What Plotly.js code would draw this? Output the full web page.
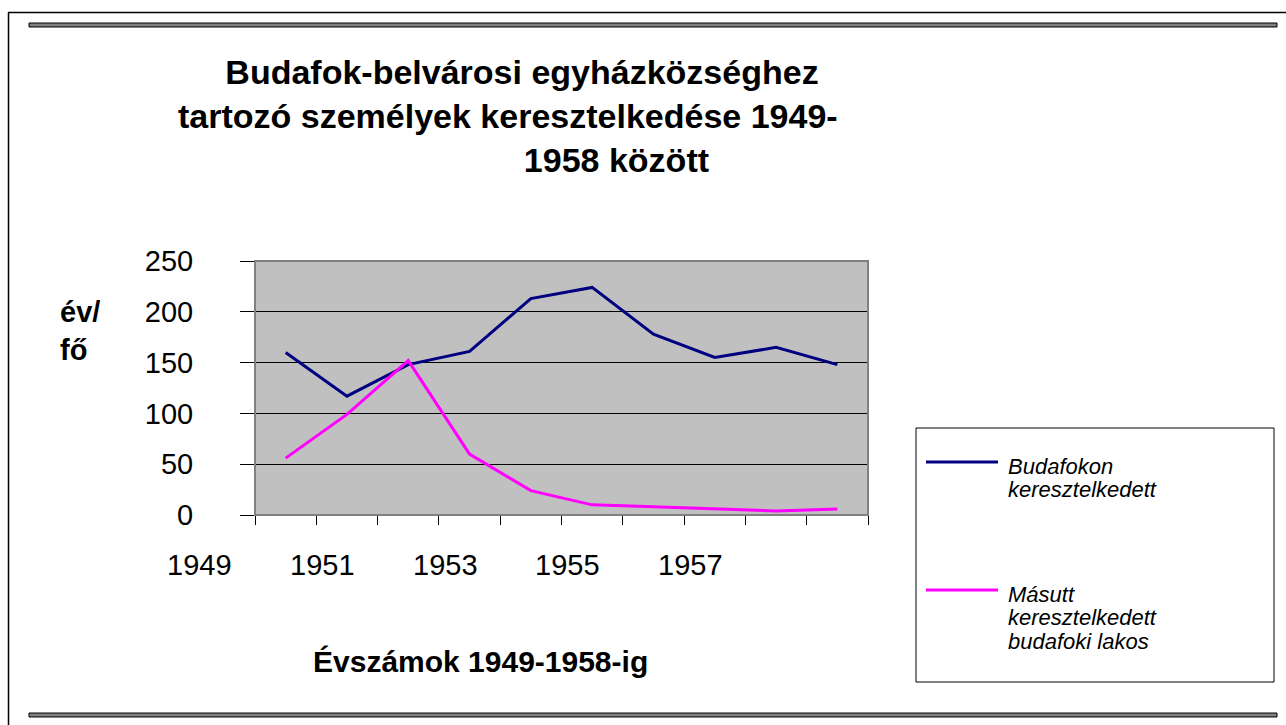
<!DOCTYPE html>
<html>
<head>
<meta charset="utf-8">
<script src="https://cdn.plot.ly/plotly-3.0.1.min.js"></script>
<style>html,body{margin:0;padding:0;background:#fff;}#chart{width:1286px;height:725px;}</style>
</head>
<body>
<div id="chart"></div>
<script>
// ---- data ----
const years = [1949, 1950, 1951, 1952, 1953, 1954, 1955, 1956, 1957, 1958];
const budafokon = [160, 117, 148, 161, 213, 224, 178, 155, 165, 148];
const masutt = [56, 99, 152, 60, 24, 10, 8, 6, 4, 6];
const seriesNames = ["Budafokon keresztelkedett", "Másutt keresztelkedett budafoki lakos"];
const legendLines = [["Budafokon", "keresztelkedett"], ["Másutt", "keresztelkedett", "budafoki lakos"]];
const seriesColors = ["#000080", "#FF00FF"];
const xTickLabels = ["1949", "1951", "1953", "1955", "1957"];
const yTicks = [0, 50, 100, 150, 200, 250];
const titleLines = ["Budafok-belvárosi egyházközséghez", "tartozó személyek keresztelkedése 1949-", "1958 között"];
const xTitle = "Évszámok 1949-1958-ig";
const yTitleLines = ["év/", "fő"];

// ---- layout helpers (pixel -> paper) ----
const L = 255, R = 868, T = 261, B = 515;
const px = v => (v - L) / (R - L);
const py = v => (B - v) / (B - T);
const FONT = "Liberation Sans, Arial, sans-serif";
const xRange = [years[0] - 0.5, years[years.length - 1] + 0.5];
const xToPaper = v => (v - xRange[0]) / (xRange[1] - xRange[0]);

const traces = [budafokon, masutt].map((vals, i) => ({
  type: "scatter", mode: "lines", x: years, y: vals, name: seriesNames[i],
  line: {color: seriesColors[i], width: 3}, showlegend: false, hoverinfo: "x+y"
}));

const shapes = [
  // plot area frame
  {type: "rect", xref: "paper", yref: "paper", x0: 0, x1: 1, y0: 0, y1: 1, line: {color: "#808080", width: 2}},
  // outer page frame
  {type: "line", xref: "paper", yref: "paper", x0: px(8), x1: px(1286), y0: py(12.5), y1: py(12.5), line: {color: "#000", width: 1.5}},
  {type: "line", xref: "paper", yref: "paper", x0: px(8.5), x1: px(8.5), y0: py(12.5), y1: py(725), line: {color: "#000", width: 1.5}},
  // thick rules
  {type: "rect", xref: "paper", yref: "paper", x0: px(29), x1: px(1277), y0: py(23), y1: py(27), fillcolor: "#808080", line: {color: "#000", width: 1}},
  {type: "rect", xref: "paper", yref: "paper", x0: px(29), x1: px(1277), y0: py(713), y1: py(717), fillcolor: "#808080", line: {color: "#000", width: 1}},
  // legend box
  {type: "rect", xref: "paper", yref: "paper", x0: px(916), x1: px(1274), y0: py(428), y1: py(682), line: {color: "#000", width: 1}, fillcolor: "rgba(0,0,0,0)"},
  {type: "line", xref: "paper", yref: "paper", x0: px(926), x1: px(998), y0: py(462), y1: py(462), line: {color: seriesColors[0], width: 3}},
  {type: "line", xref: "paper", yref: "paper", x0: px(926), x1: px(998), y0: py(590), y1: py(590), line: {color: seriesColors[1], width: 3}}
];

const annotations = [];
xTickLabels.forEach(t => annotations.push({
  text: t, xref: "paper", yref: "paper", x: xToPaper(Number(t) - 1.4), y: py(565), xanchor: "center", yanchor: "middle",
  showarrow: false, font: {family: FONT, size: 29, color: "#000"}
}));
annotations.push({text: xTitle, xref: "paper", yref: "paper", x: px(480), y: py(661), xanchor: "center", yanchor: "middle",
  showarrow: false, font: {family: FONT, size: 30, color: "#000", weight: "bold"}});
annotations.push({text: yTitleLines.join("<br>"), xref: "paper", yref: "paper", x: px(58), y: py(331), xanchor: "left", yanchor: "middle",
  align: "left", showarrow: false, font: {family: FONT, size: 29, color: "#000", weight: "bold"}});
const legendStart = [466, 594];
legendLines.forEach((lines, i) => lines.forEach((ln, j) => annotations.push({
  text: ln, xref: "paper", yref: "paper", x: px(1006), y: py(legendStart[i] + j * 23.5), xanchor: "left", yanchor: "middle",
  showarrow: false, font: {family: FONT, size: 22, color: "#000", style: "italic"}
})));

const nb = n => "\u00a0".repeat(n);
const layout = {
  width: 1286, height: 725,
  margin: {l: L, r: 1286 - R, t: T, b: 725 - B, pad: 0},
  paper_bgcolor: "#ffffff", plot_bgcolor: "#C0C0C0",
  title: {
    text: titleLines[0] + "<br>" + titleLines[1] + nb(3) + "<br>" + nb(20) + titleLines[2],
    xref: "container", yref: "container", x: 522 / 1286, y: 1 - 84 / 725, xanchor: "center", yanchor: "middle",
    font: {family: FONT, size: 34, color: "#000", weight: "bold"}
  },
  xaxis: {
    range: xRange,
    tickvals: years.map(y => y - 0.5).concat([years[years.length - 1] + 0.5]),
    ticktext: years.map(() => "").concat([""]),
    ticks: "outside", ticklen: 9, tickcolor: "#000", tickwidth: 1,
    showline: true, linecolor: "#000", linewidth: 1, showgrid: false, zeroline: false, fixedrange: true
  },
  yaxis: {
    range: [0, 250], tickvals: yTicks, ticktext: yTicks.map(String),
    ticks: "outside", ticklen: 14, tickcolor: "#000", tickwidth: 1,
    ticklabelstandoff: 41,
    tickfont: {family: FONT, size: 29, color: "#000"},
    showline: true, linecolor: "#000", linewidth: 1,
    showgrid: true, gridcolor: "#000", gridwidth: 1, zeroline: false, fixedrange: true
  },
  shapes: shapes, annotations: annotations, showlegend: false
};

Plotly.newPlot("chart", traces, layout, {displayModeBar: false, staticPlot: true});
</script>
</body>
</html>
